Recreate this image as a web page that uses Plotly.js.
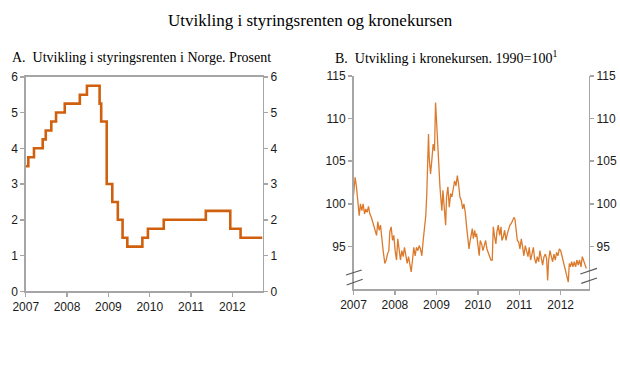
<!DOCTYPE html>
<html>
<head>
<meta charset="utf-8">
<script src="https://cdn.plot.ly/plotly-3.0.1.min.js"></script>
<style>html,body{margin:0;padding:0;background:#fff;}#chart{width:620px;height:371px;}</style>
</head>
<body>
<div id="chart"></div>
<script>
// Panel A: policy rate (step changes)
const rateDates = ['2007-01-01','2007-01-24','2007-03-15','2007-05-31','2007-06-27','2007-08-15','2007-09-26','2007-12-12','2008-04-23','2008-06-25','2008-10-15','2008-10-29','2008-12-17','2009-02-04','2009-03-25','2009-05-06','2009-06-17','2009-10-28','2009-12-16','2010-05-05','2011-05-12','2011-12-14','2012-03-14','2012-09-24'];
const rateValues = [3.5,3.75,4.0,4.25,4.5,4.75,5.0,5.25,5.5,5.75,5.25,4.75,3.0,2.5,2.0,1.5,1.25,1.5,1.75,2.0,2.25,1.75,1.5,1.5];

// Panel B: krone exchange rate index (decimal years, index values)
const fxYears = [2007.000,2007.040,2007.072,2007.113,2007.137,2007.169,2007.201,2007.234,2007.266,2007.298,2007.330,2007.362,2007.395,2007.435,2007.475,2007.515,2007.556,2007.588,2007.620,2007.652,2007.684,2007.717,2007.757,2007.789,2007.821,2007.854,2007.878,2007.910,2007.942,2007.974,
2008.006,2008.039,2008.071,2008.103,2008.135,2008.168,2008.200,2008.232,2008.264,2008.296,2008.329,2008.361,2008.393,2008.425,2008.457,2008.490,2008.522,2008.554,2008.586,2008.618,2008.651,2008.683,2008.715,2008.747,2008.771,2008.795,2008.812,2008.828,2008.860,2008.892,2008.924,2008.957,2008.981,
2009.005,2009.029,2009.053,2009.085,2009.110,2009.134,2009.158,2009.182,2009.222,2009.246,2009.279,2009.311,2009.343,2009.375,2009.407,2009.440,2009.472,2009.504,2009.536,2009.568,2009.601,2009.633,2009.665,2009.697,2009.729,2009.762,2009.786,2009.810,2009.842,2009.866,2009.890,2009.923,2009.947,2009.971,
2010.003,2010.035,2010.060,2010.092,2010.124,2010.156,2010.188,2010.221,2010.253,2010.285,2010.317,2010.349,2010.374,2010.406,2010.438,2010.462,2010.494,2010.527,2010.559,2010.583,2010.615,2010.647,2010.680,2010.712,2010.744,2010.776,2010.808,2010.841,2010.873,2010.897,2010.921,2010.953,2010.986,
2011.018,2011.050,2011.082,2011.114,2011.147,2011.179,2011.211,2011.243,2011.275,2011.308,2011.340,2011.372,2011.404,2011.436,2011.469,2011.501,2011.533,2011.565,2011.597,2011.630,2011.662,2011.686,2011.710,2011.742,2011.775,2011.807,2011.839,2011.871,2011.903,2011.936,2011.968,
2012.000,2012.032,2012.064,2012.097,2012.129,2012.161,2012.185,2012.209,2012.233,2012.266,2012.298,2012.330,2012.362,2012.394,2012.427,2012.459,2012.491,2012.523,2012.556,2012.588,2012.620];
const fxValues = [101.0,103.1,102.0,99.6,98.6,100.0,99.2,100.0,98.8,99.4,99.0,99.7,98.8,98.4,97.7,96.7,96.3,97.9,96.9,97.5,95.7,94.5,93.0,93.4,94.1,94.5,96.7,97.3,95.7,96.3,
94.5,93.4,95.9,94.9,93.4,94.5,93.8,94.9,94.1,93.0,93.8,92.6,92.0,93.4,94.9,93.9,94.9,94.5,95.1,94.7,93.9,95.7,97.3,98.6,101.2,104.3,108.2,105.4,103.5,105.1,107.0,106.2,111.9,
109.7,107.0,104.3,102.0,100.4,99.2,101.6,100.4,97.5,100.8,102.0,99.6,101.2,100.8,102.0,102.7,102.1,103.3,102.3,100.8,100.4,99.4,100.0,99.0,97.3,96.1,94.7,95.5,96.3,97.1,95.9,96.9,96.1,96.5,
95.1,93.9,95.7,95.3,94.5,95.1,95.7,94.7,94.3,93.8,93.4,93.4,97.3,96.1,95.3,96.7,97.5,96.3,97.3,95.7,96.1,96.9,95.7,96.5,97.1,97.5,97.7,98.0,98.4,98.2,97.1,95.7,95.5,
94.7,95.9,95.1,93.9,95.1,94.5,93.8,94.9,93.4,94.1,94.9,93.6,93.0,93.8,93.2,94.5,93.4,92.8,93.8,94.1,93.6,91.0,93.4,94.5,93.8,93.2,94.1,93.4,94.3,93.9,94.7,
94.5,93.9,93.2,92.6,91.8,91.2,90.8,93.0,92.6,93.2,92.6,93.2,92.6,93.4,92.8,93.4,92.6,93.8,93.4,92.8,92.4];

function decToDate(d){
  const y = Math.floor(d);
  const ms = Date.UTC(y,0,1) + (d - y) * 365.25 * 864e5;
  return new Date(ms).toISOString().slice(0,10);
}
const fxDates = fxYears.map(decToDate);

const axisGray = '#a6a6a6';
const tickFont = {family:'"Liberation Sans", Arial, sans-serif', size:12, color:'#1a1a1a'};
const serif = '"Liberation Serif", "Times New Roman", serif';

const traces = [
  {x: rateDates, y: rateValues, xaxis:'x', yaxis:'y', mode:'lines', line:{shape:'hv', color:'#d0600e', width:2.6}, hoverinfo:'skip', showlegend:false},
  {x: rateDates, y: rateValues, xaxis:'x', yaxis:'y3', mode:'lines', line:{width:0, color:'rgba(0,0,0,0)'}, hoverinfo:'skip', showlegend:false},
  {x: fxDates, y: fxValues, xaxis:'x2', yaxis:'y2', mode:'lines', line:{color:'#dc7a2c', width:1.3}, hoverinfo:'skip', showlegend:false},
  {x: fxDates, y: fxValues, xaxis:'x2', yaxis:'y4', mode:'lines', line:{width:0, color:'rgba(0,0,0,0)'}, hoverinfo:'skip', showlegend:false}
];

const xCommon = {type:'date', showgrid:false, zeroline:false, showline:true, linecolor:axisGray, linewidth:1.5,
  ticks:'outside', ticklen:4, tickcolor:axisGray, tickwidth:1.5, tickformat:'%Y', dtick:'M12', tick0:'2007-01-01', tickfont:tickFont};
const yCommon = {showgrid:false, zeroline:false, showline:true, linecolor:axisGray, linewidth:1.5,
  ticks:'outside', ticklen:4, tickcolor:axisGray, tickwidth:1.5, tickfont:tickFont};

const layout = {
  width:620, height:371,
  margin:{l:0,r:0,t:0,b:0},
  paper_bgcolor:'#fff', plot_bgcolor:'#fff',
  showlegend:false,
  xaxis: Object.assign({}, xCommon, {domain:[0.0415,0.4234], anchor:'y', range:['2007-01-01','2012-09-24'], mirror:true}),
  yaxis: Object.assign({}, yCommon, {domain:[0.2148,0.7930], anchor:'x', range:[0,6], dtick:1, side:'left'}),
  yaxis3: Object.assign({}, yCommon, {domain:[0.2148,0.7930], anchor:'x', overlaying:'y', range:[0,6], dtick:1, side:'right'}),
  xaxis2: Object.assign({}, xCommon, {domain:[0.5702,0.9495], anchor:'y2', range:['2007-01-01','2012-09-04']}),
  yaxis2: Object.assign({}, yCommon, {domain:[0.2210,0.7951], anchor:'x2', range:[90,115], tickvals:[95,100,105,110,115], side:'left'}),
  yaxis4: Object.assign({}, yCommon, {domain:[0.2210,0.7951], anchor:'x2', overlaying:'y2', range:[90,115], tickvals:[95,100,105,110,115], side:'right'}),
  annotations: [
    {text:'Utvikling i styringsrenten og kronekursen', xref:'paper', yref:'paper', x:0.5, y:0.946, xanchor:'center', yanchor:'middle', showarrow:false, font:{family:serif, size:17, color:'#000'}},
    {text:'A.  Utvikling i styringsrenten i Norge. Prosent', xref:'paper', yref:'paper', x:0.016, y:0.846, xanchor:'left', yanchor:'middle', showarrow:false, font:{family:serif, size:14, color:'#000'}},
    {text:'B.  Utvikling i kronekursen. 1990=100<sup>1</sup>', xref:'paper', yref:'paper', x:0.537, y:0.846, xanchor:'left', yanchor:'middle', showarrow:false, font:{family:serif, size:14, color:'#000'}}
  ],
  shapes: [
    {type:'line', xref:'paper', yref:'paper', x0:0.558, y0:0.2588, x1:0.5834, y1:0.2722, line:{color:'#595959', width:1.2}},
    {type:'line', xref:'paper', yref:'paper', x0:0.5592, y0:0.2318, x1:0.585, y1:0.2472, line:{color:'#595959', width:1.2}},
    {type:'line', xref:'paper', yref:'paper', x0:0.936, y0:0.2615, x1:0.9629, y1:0.2768, line:{color:'#595959', width:1.2}},
    {type:'line', xref:'paper', yref:'paper', x0:0.9376, y0:0.2361, x1:0.9629, y1:0.2507, line:{color:'#595959', width:1.2}}
  ]
};

Plotly.newPlot('chart', traces, layout, {staticPlot:true, displayModeBar:false});
</script>
</body>
</html>
